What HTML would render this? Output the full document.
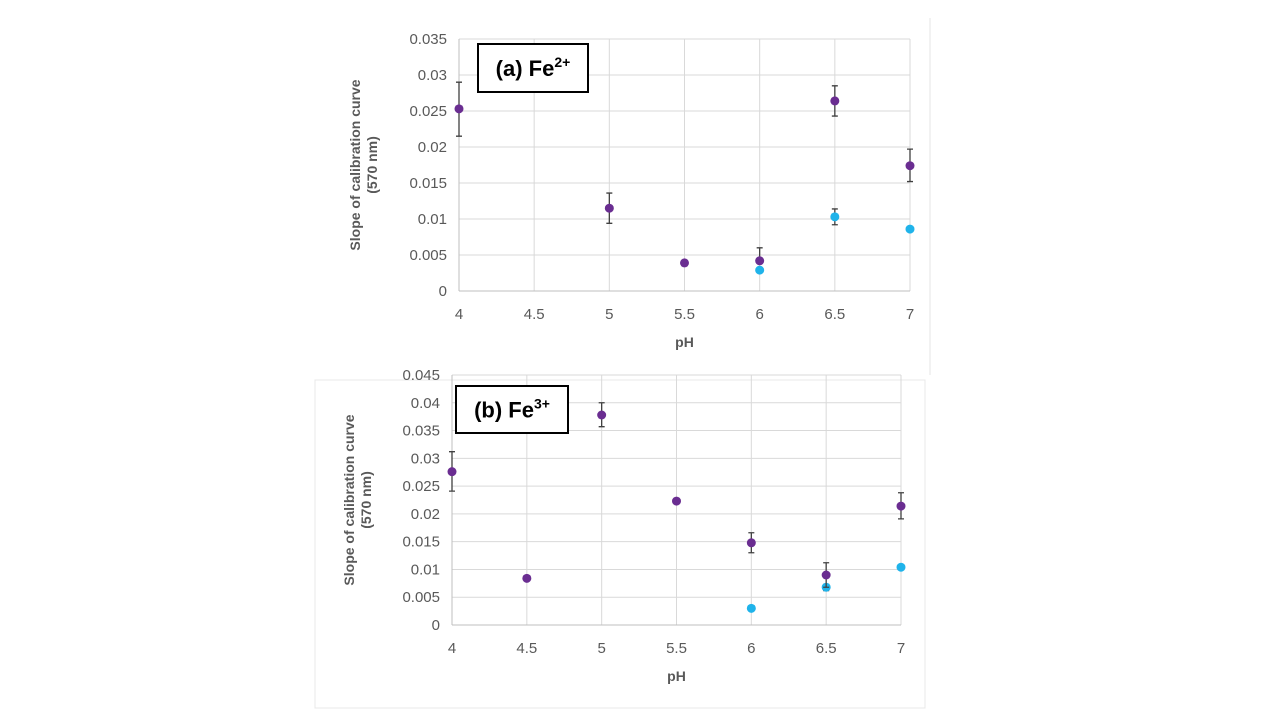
<!DOCTYPE html>
<html><head><meta charset="utf-8"><style>
body{margin:0;background:#fff;width:1280px;height:710px;overflow:hidden}
svg{display:block;font-family:"Liberation Sans",sans-serif}
</style></head><body>
<svg id="chart" width="1280" height="710" viewBox="0 0 1280 710">
<line x1="930" y1="18" x2="930" y2="375" stroke="#e4e4e4"/>
<rect x="315" y="380" width="610" height="328" fill="none" stroke="#e8e8e8"/>
<g id="pa"></g>
<g id="pb"></g>
</svg>
<script>
const xTicks=[4,4.5,5,5.5,6,6.5,7];
const aYTicks=[0,0.005,0.01,0.015,0.02,0.025,0.03,0.035];
const aPurpleX=[4,5,5.5,6,6.5,7];
const aPurpleY=[0.0253,0.0115,0.0039,0.0042,0.0264,0.0174];
const aPurpleLo=[0.0215,0.0094,0.0039,0.0042,0.0243,0.0152];
const aPurpleHi=[0.029,0.0136,0.0039,0.006,0.0285,0.0197];
const aBlueX=[6,6.5,7];
const aBlueY=[0.0029,0.0103,0.0086];
const aBlueLo=[0.0029,0.0092,0.0086];
const aBlueHi=[0.0029,0.0114,0.0086];
const bYTicks=[0,0.005,0.01,0.015,0.02,0.025,0.03,0.035,0.04,0.045];
const bPurpleX=[4,4.5,5,5.5,6,6.5,7];
const bPurpleY=[0.0276,0.0084,0.0378,0.0223,0.0148,0.009,0.0214];
const bPurpleLo=[0.0241,0.0084,0.0357,0.0223,0.013,0.0068,0.0191];
const bPurpleHi=[0.0312,0.0084,0.04,0.0223,0.0166,0.0112,0.0238];
const bBlueX=[6,6.5,7];
const bBlueY=[0.003,0.0068,0.0104];
const bBlueLo=[0.003,0.0062,0.0104];
const bBlueHi=[0.003,0.0073,0.0104];
const NS="http://www.w3.org/2000/svg";
function mk(p,t,a){const e=document.createElementNS(NS,t);for(const k in a)e.setAttribute(k,a[k]);p.appendChild(e);return e;}
function draw(g,cfg){
 const {L,R,B,T,ymax,yTicks,series,labelX,box,sup,tag}=cfg;
 const xs=v=>L+(v-4)/3*(R-L);
 const ys=v=>B-(v/ymax)*(B-T);
 yTicks.forEach(t=>{
  const l=mk(g,'line',{x1:L,x2:R,y1:ys(t),y2:ys(t),stroke:'#d9d9d9','stroke-width':1});
  
  
  const tx=mk(g,'text',{x:L-12,y:ys(t)+5,'text-anchor':'end','font-size':15,fill:'#595959'});
  tx.textContent=String(t);
  
  
 });
 xTicks.forEach(t=>{
  const l=mk(g,'line',{x1:xs(t),x2:xs(t),y1:T,y2:B,stroke:'#d9d9d9','stroke-width':1});
  
  
  const tx=mk(g,'text',{x:xs(t),y:B+28,'text-anchor':'middle','font-size':15,fill:'#595959'});
  tx.textContent=String(t);
  
  
 });
 const ax=mk(g,'line',{x1:L,x2:L,y1:T,y2:B,stroke:'#bfbfbf'});
 
 
 const bx=mk(g,'line',{x1:L,x2:R,y1:B,y2:B,stroke:'#bfbfbf'});
 
 
 const xt=mk(g,'text',{x:(L+R)/2,y:B+56,'text-anchor':'middle','font-size':14,'font-weight':'bold',fill:'#595959'});
 xt.textContent='pH';
 
 
 const cy=(T+B)/2;
 const yt=mk(g,'text',{transform:`translate(${labelX},${cy}) rotate(-90)`,'text-anchor':'middle','font-size':14,'font-weight':'bold',fill:'#595959'});
 
 
 const t1=mk(yt,'tspan',{x:0,y:0});t1.textContent='Slope of calibration curve';
 const t2=mk(yt,'tspan',{x:0,y:17});t2.textContent='(570 nm)';
 const r=mk(g,'rect',{x:box[0],y:box[1],width:box[2],height:box[3],fill:'#fff',stroke:'#000','stroke-width':2});
 
 
 const lt=mk(g,'text',{x:box[0]+box[2]/2,y:box[1]+box[3]/2+8,'text-anchor':'middle','font-size':22,'font-weight':'bold',fill:'#000'});
 
 
 const s1=mk(lt,'tspan',{});s1.textContent=tag+' Fe';
 const s2=mk(lt,'tspan',{dy:-9,'font-size':14});s2.textContent=sup;
 series.forEach(s=>{
  s.x.forEach((xv,i)=>{
   if(s.hi[i]-s.lo[i]>0){
    const X=xs(xv),y1=ys(s.hi[i]),y2=ys(s.lo[i]);
    const e=mk(g,'path',{d:`M${X},${y1}V${y2}M${X-3},${y1}H${X+3}M${X-3},${y2}H${X+3}`,stroke:'#404040','stroke-width':1.3,fill:'none'});
    
    
   }
   const c=mk(g,'circle',{cx:xs(xv),cy:ys(s.y[i]),r:4.5,fill:s.color});
   
   
  });
 });
}
draw(document.getElementById('pa'),{L:459,R:910,B:291,T:39,ymax:0.035,yTicks:aYTicks,labelX:360,box:[478,44,110,48],sup:'2+',tag:'(a)',
 series:[{name:'blue-series',x:aBlueX,y:aBlueY,lo:aBlueLo,hi:aBlueHi,color:'#1fb3ea'},{name:'purple-series',x:aPurpleX,y:aPurpleY,lo:aPurpleLo,hi:aPurpleHi,color:'#6a2d91'}]});
draw(document.getElementById('pb'),{L:452,R:901,B:625,T:375,ymax:0.045,yTicks:bYTicks,labelX:354,box:[456,386,112,47],sup:'3+',tag:'(b)',
 series:[{name:'blue-series',x:bBlueX,y:bBlueY,lo:bBlueLo,hi:bBlueHi,color:'#1fb3ea'},{name:'purple-series',x:bPurpleX,y:bPurpleY,lo:bPurpleLo,hi:bPurpleHi,color:'#6a2d91'}]});
</script>
</body></html>
